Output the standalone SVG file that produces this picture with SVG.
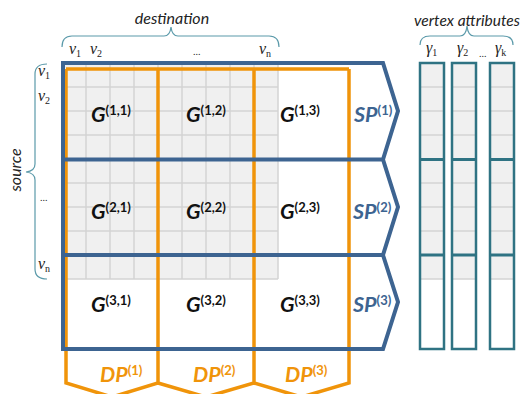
<svg xmlns="http://www.w3.org/2000/svg" width="523" height="394" viewBox="0 0 523 394">
<style>
.lbl{font-family:Lato,"Open Sans",sans-serif;font-style:italic;fill:#222;font-size:16px}
.math{font-family:"Liberation Serif","DejaVu Serif",serif;font-style:italic;fill:#222;font-size:16px}
.sub{font-size:10px;font-style:normal}
.dots{font-family:"Liberation Serif",serif;fill:#222;font-size:10px}
.brace{fill:none;stroke:#5b9aaa;stroke-width:1.2}
.G{font-family:Lato,"Open Sans",sans-serif;font-weight:bold;font-size:21.5px;fill:#111}
.sp{fill:#3d6491}
.dp{fill:#f0940a}
.g{font-style:italic}
.sup{font-size:13px;font-style:normal}
.grid{stroke:#d3d3d3;stroke-width:1.5;fill:none}
.blue{fill:none;stroke:#3d6491;stroke-width:4;stroke-linejoin:miter}
.orange{fill:none;stroke:#f0940a;stroke-width:3.5}
.col{fill:none;stroke:#2f7383;stroke-width:2.5}
.colsep{stroke:#2f7383;stroke-width:3}
</style>

<g id="labels">
<text class="lbl" x="172" y="24" text-anchor="middle">destination</text>
<path class="brace" d="M62,47 Q62,36 72,36 H164 Q170,36 171,27 Q172,36 178,36 H269 Q279,36 279,47"/>
<text class="lbl" transform="translate(21,170) rotate(-90)" text-anchor="middle">source</text>
<path class="brace" d="M47,64 Q35,64 35,74 V164 Q35,171 26,172 Q35,173 35,180 V269 Q35,279 47,279"/>
<text class="math" x="69" y="54">v<tspan class="sub" dy="3">1</tspan></text>
<text class="math" x="90" y="54">v<tspan class="sub" dy="3">2</tspan></text>
<text class="dots" x="193" y="55">...</text>
<text class="math" x="259" y="54">v<tspan class="sub" dy="3">n</tspan></text>
<text class="math" x="38" y="76">v<tspan class="sub" dy="3">1</tspan></text>
<text class="math" x="38" y="101">v<tspan class="sub" dy="3">2</tspan></text>
<text class="dots" x="40" y="201">...</text>
<text class="math" x="38" y="269">v<tspan class="sub" dy="3">n</tspan></text>
<text class="lbl" x="467" y="26" text-anchor="middle" style="font-size:15.5px">vertex attributes</text>
<path class="brace" d="M420,45 Q420,36 430,36 H460 Q466,36 467,26 Q468,36 474,36 H503 Q513,36 513,45"/>
<text class="math" x="426" y="53">γ<tspan class="sub" dy="3">1</tspan></text>
<text class="math" x="457" y="53">γ<tspan class="sub" dy="3">2</tspan></text>
<text class="dots" x="479" y="57">...</text>
<text class="math" x="495" y="53">γ<tspan class="sub" dy="3">k</tspan></text>
</g>

<g id="matrix">
<rect x="62" y="63" width="216" height="216" fill="#f0f0f0"/>
<path class="grid" d="M86,63V279M110,63V279M134,63V279M158,63V279M182,63V279M206,63V279M230,63V279M254,63V279M278,63V279M62,87H278M62,111H278M62,135H278M62,159H278M62,183H278M62,207H278M62,231H278M62,255H278M62,279H278"/>
</g>

<g id="attributes">
<g id="attr1">
<rect x="420" y="63" width="24" height="216" fill="#f0f0f0"/>
<path class="grid" d="M420,87h24M420,111h24M420,135h24M420,183h24M420,207h24M420,231h24M420,279h24"/>
<path class="colsep" d="M420,159.5h24M420,255h24"/>
<rect class="col" x="420" y="63" width="24" height="286"/>
</g>
<g id="attr2">
<rect x="452" y="63" width="24" height="216" fill="#f0f0f0"/>
<path class="grid" d="M452,87h24M452,111h24M452,135h24M452,183h24M452,207h24M452,231h24M452,279h24"/>
<path class="colsep" d="M452,159.5h24M452,255h24"/>
<rect class="col" x="452" y="63" width="24" height="286"/>
</g>
<g id="attr3">
<rect x="490" y="63" width="24" height="216" fill="#f0f0f0"/>
<path class="grid" d="M490,87h24M490,111h24M490,135h24M490,183h24M490,207h24M490,231h24M490,279h24"/>
<path class="colsep" d="M490,159.5h24M490,255h24"/>
<rect class="col" x="490" y="63" width="24" height="286"/>
</g>
</g>

<g id="connectors">
<path id="dp-partitions" class="orange" d="M66,69H349M66,69V383L112,397L158,383V69M158,383L206,397L254,383V69M254,383L301.5,397L349,383V69"/>
<path id="sp-partitions" class="blue" d="M63,63H383L398,111L383,159.5L398,207L383,255L398,302L383,349H63ZM63,159.5H383M63,255H383"/>
</g>

<g id="blocks">
<text class="G" x="91" y="122"><tspan class="g">G</tspan><tspan class="sup" dy="-7">(1,1)</tspan></text>
<text class="G" x="186" y="122"><tspan class="g">G</tspan><tspan class="sup" dy="-7">(1,2)</tspan></text>
<text class="G" x="280" y="122"><tspan class="g">G</tspan><tspan class="sup" dy="-7">(1,3)</tspan></text>
<text class="G" x="91" y="219"><tspan class="g">G</tspan><tspan class="sup" dy="-7">(2,1)</tspan></text>
<text class="G" x="186" y="219"><tspan class="g">G</tspan><tspan class="sup" dy="-7">(2,2)</tspan></text>
<text class="G" x="280" y="219"><tspan class="g">G</tspan><tspan class="sup" dy="-7">(2,3)</tspan></text>
<text class="G" x="91" y="312"><tspan class="g">G</tspan><tspan class="sup" dy="-7">(3,1)</tspan></text>
<text class="G" x="186" y="312"><tspan class="g">G</tspan><tspan class="sup" dy="-7">(3,2)</tspan></text>
<text class="G" x="280" y="312"><tspan class="g">G</tspan><tspan class="sup" dy="-7">(3,3)</tspan></text>
<text class="G sp" x="354" y="122"><tspan class="g">SP</tspan><tspan class="sup" dy="-7">(1)</tspan></text>
<text class="G sp" x="353" y="219"><tspan class="g">SP</tspan><tspan class="sup" dy="-7">(2)</tspan></text>
<text class="G sp" x="353" y="312"><tspan class="g">SP</tspan><tspan class="sup" dy="-7">(3)</tspan></text>
<text class="G dp" x="100" y="382"><tspan class="g">DP</tspan><tspan class="sup" dy="-7">(1)</tspan></text>
<text class="G dp" x="193" y="382"><tspan class="g">DP</tspan><tspan class="sup" dy="-7">(2)</tspan></text>
<text class="G dp" x="285" y="382"><tspan class="g">DP</tspan><tspan class="sup" dy="-7">(3)</tspan></text>
</g>
</svg>
